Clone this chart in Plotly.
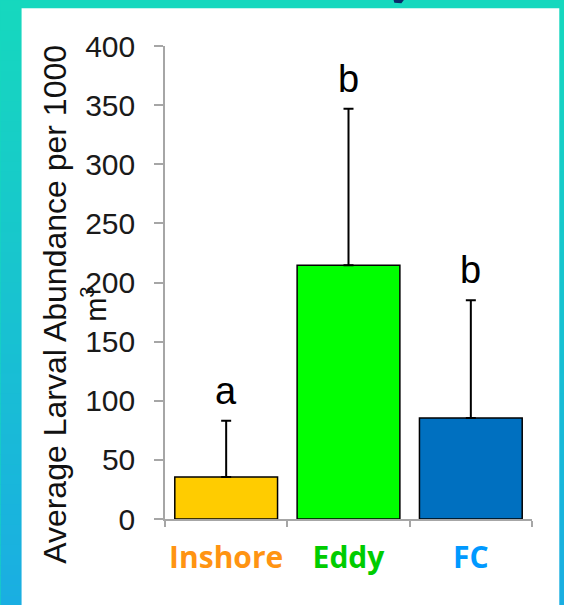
import plotly.graph_objects as go

# ---- data ----
categories = ["Inshore", "Eddy", "FC"]
means = [35.5, 214.5, 85.5]
errors_up = [47.5, 132.5, 99.5]
sig_letters = ["a", "b", "b"]
bar_colors = ["#FFCC00", "#00FF00", "#0070C0"]
label_colors = ["#FF9412", "#00CC00", "#0099FF"]
y_ticks = [0, 50, 100, 150, 200, 250, 300, 350, 400]

# ---- geometry (pixels) ----
W_FIG, H_FIG = 564, 605
L, R, T, B = 164.5, 531.7, 45.7, 518.7
PW, PH = R - L, B - T


def px_x(p):
    return (p - L) / PW


def px_y(p):
    return (B - p) / PH


def hex2rgb(h):
    h = h.lstrip("#")
    return tuple(int(h[i:i + 2], 16) for i in (0, 2, 4))


fig = go.Figure()

fig.add_trace(go.Bar(
    x=categories,
    y=means,
    marker=dict(color=bar_colors, line=dict(color="black", width=1.5)),
    error_y=dict(type="data", array=errors_up, arrayminus=[0] * len(means),
                 symmetric=False, color="black", thickness=2, width=5),
    showlegend=False,
))

# significance letters
for c, m, e, s in zip(categories, means, errors_up, sig_letters):
    fig.add_annotation(x=c, y=m + e, text=s, showarrow=False,
                       yanchor="bottom", yshift=7,
                       font=dict(family="Liberation Sans, Arial", size=38, color="black"))

# background gradient + white panel
shapes = []
top_c, bot_c = hex2rgb("#16D8BE"), hex2rgb("#1AAEE2")
n = 60
for i in range(n):
    t = i / (n - 1)
    col = tuple(round(top_c[k] + (bot_c[k] - top_c[k]) * t) for k in range(3))
    y0 = H_FIG * i / n
    y1 = H_FIG * (i + 1) / n + 0.6
    shapes.append(dict(type="rect", xref="paper", yref="paper", layer="below",
                       x0=px_x(0), x1=px_x(W_FIG), y0=px_y(y1), y1=px_y(y0),
                       line=dict(width=0), fillcolor="rgb(%d,%d,%d)" % col))
shapes.append(dict(type="rect", xref="paper", yref="paper", layer="below",
                   x0=px_x(21), x1=px_x(559), y0=px_y(H_FIG + 2), y1=px_y(8),
                   line=dict(width=0), fillcolor="white"))
# cut-off descender of the slide title above the picture
shapes.append(dict(type="path", xref="paper", yref="paper", layer="below",
                   path="M %f,%f L %f,%f L %f,%f L %f,%f Z" % (
                       px_x(393), px_y(-1), px_x(404), px_y(-1),
                       px_x(401), px_y(3), px_x(394), px_y(2.5)),
                   line=dict(width=0), fillcolor="#0B2A6A"))

# y-axis title (two lines)
fig.add_annotation(xref="paper", yref="paper", x=px_x(55), y=px_y(304),
                   text="Average Larval Abundance per 1000", textangle=-90,
                   showarrow=False, xanchor="center", yanchor="middle",
                   font=dict(family="Liberation Sans, Arial", size=32, color="#111111"))
fig.add_annotation(xref="paper", yref="paper", x=px_x(94), y=px_y(304),
                   text="m<sup>3</sup>", textangle=-90,
                   showarrow=False, xanchor="center", yanchor="middle",
                   font=dict(family="Liberation Sans, Arial", size=29, color="#111111"))

ticktext = ["<span style='color:%s'><b>%s</b></span>" % (col, c)
            for c, col in zip(categories, label_colors)]

fig.update_layout(
    width=W_FIG, height=H_FIG,
    margin=dict(l=L, r=W_FIG - R, t=T, b=H_FIG - B, pad=0, autoexpand=False),
    paper_bgcolor="#16D8BE",
    plot_bgcolor="rgba(0,0,0,0)",
    bargap=0.16,
    shapes=shapes,
    xaxis=dict(
        tickmode="array", tickvals=categories, ticktext=ticktext,
        tickson="boundaries", ticks="outside", ticklen=6, tickwidth=1.5,
        tickcolor="#A6A6A6", showline=True, linecolor="#A6A6A6", linewidth=1.5,
        showgrid=False, zeroline=False, tickangle=0, automargin=False,
        tickfont=dict(family="Open Sans, Lato", size=30),
        ticklabelstandoff=11,
    ),
    yaxis=dict(
        range=[0, 400], tickmode="array", tickvals=y_ticks,
        ticks="outside", ticklen=9, tickwidth=1.5, tickcolor="#A6A6A6",
        showline=True, linecolor="#A6A6A6", linewidth=1.5,
        showgrid=False, zeroline=False, automargin=False,
        tickfont=dict(family="Liberation Sans, Arial", size=30, color="#1A1A1A"),
        ticklabelstandoff=13,
    ),
)

fig.write_html("out.html", config={"displayModeBar": False},
               post_script="document.body.style.margin='0';document.body.style.padding='0';")
